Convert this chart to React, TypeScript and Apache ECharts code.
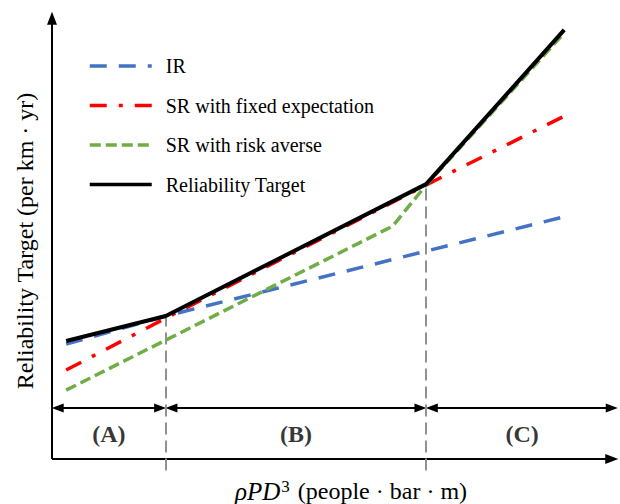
import React, { useEffect, useRef } from "react";
import * as echarts from "echarts";

// Schematic reliability-target curves, in normalised units (x: 0-100, y: 0-100)
const seriesNames = ["IR", "SR with fixed expectation", "SR with risk averse", "Reliability Target"];

const irX = [2.5, 20.1, 91.2];
const irY = [25.7, 32.0, 54.4];

const srFixedX = [2.5, 20.1, 66.1, 90.5];
const srFixedY = [19.9, 31.5, 61.3, 76.7];

const srAverseX = [2.5, 60.2, 66.1, 90.5];
const srAverseY = [15.4, 52.1, 61.3, 95.3];

const targetX = [2.5, 20.1, 66.1, 90.5];
const targetY = [26.4, 32.0, 61.5, 96.0];

// Region boundaries along ρPD³ and the region labels
const boundaries = [20.1, 66.1];
const boundaryTops = [32.0, 61.5];
const regionLabels = ["(A)", "(B)", "(C)"];

const SERIF = "Liberation Serif";

const pairs = (xs: number[], ys: number[]) => xs.map((x, i) => [x, ys[i]]);

export default function App() {
  const ref = useRef<HTMLDivElement>(null);

  useEffect(() => {
    if (!ref.current) return;
    const chart = echarts.init(ref.current, undefined, { renderer: "svg" });

    const xMin = 0;
    const xMax = 100;
    const yMin = -3;
    const yMax = 100;
    const bandY = 11.4;
    const edges = [xMin, ...boundaries, xMax];
    const labelY = 5.6;

    const arrowEnd = (size: number[]) => ({ symbol: "triangle", symbolSize: size });
    const noEnd = { symbol: "none" };

    const frameLines: any[] = [
      // axes
      [{ coord: [0, 0], ...noEnd }, { coord: [0, 98.6], ...arrowEnd([10, 13]) }],
      [{ coord: [0, 0], ...noEnd }, { coord: [98.9, 0], ...arrowEnd([10, 13]) }],
    ];
    // double-headed region arrows
    for (let i = 0; i < edges.length - 1; i++) {
      const a = edges[i] + 1.0;
      const b = i === edges.length - 2 ? edges[i + 1] - 1.1 : edges[i + 1] - 1.0;
      frameLines.push([
        { coord: [a, bandY], ...arrowEnd([9, 12]) },
        { coord: [b, bandY], ...arrowEnd([9, 12]) },
      ]);
    }

    const boundaryLines = boundaries.map((x, i) => [
      { coord: [x, -2.6], symbol: "none" },
      { coord: [x, boundaryTops[i]], symbol: "none" },
    ]);

    const regionData = edges.slice(0, -1).map((e, i) => ({
      value: [(e + edges[i + 1]) / 2, labelY],
      name: regionLabels[i],
    }));

    const lineSeries = (name: string, data: number[][], color: string, type: any, width: number, z: number) => ({
      name,
      type: "line",
      data,
      symbol: "none",
      z,
      lineStyle: { color, width, type, cap: "butt" },
      itemStyle: { color },
    });

    chart.setOption({
      animation: false,
      textStyle: { fontFamily: SERIF },
      grid: { left: 52, right: 2, top: 12, bottom: 31.6 },
      xAxis: { type: "value", min: xMin, max: xMax, show: false },
      yAxis: { type: "value", min: yMin, max: yMax, show: false },
      legend: {
        data: seriesNames,
        orient: "vertical",
        left: 83,
        top: 51,
        itemWidth: 62,
        itemHeight: 14,
        itemGap: 19.5,
        itemStyle: { opacity: 0 },
        lineStyle: { width: 3.5 },
        textStyle: { fontFamily: SERIF, fontSize: 20, color: "#000", padding: [0, 0, 0, 9] },
        selectedMode: false,
      },
      graphic: [
        {
          type: "text",
          x: 25,
          y: 241,
          rotation: Math.PI / 2,
          style: {
            text: "Reliability Target (per km · yr)",
            fontFamily: SERIF,
            fontSize: 24,
            fill: "#000",
            align: "center",
            verticalAlign: "middle",
          },
        },
        {
          type: "text",
          x: 351,
          y: 491,
          style: {
            text: "{i|ρPD}{s|3}{n| (people · bar · m)}",
            fill: "#000",
            align: "center",
            verticalAlign: "middle",
            rich: {
              i: { fontFamily: SERIF, fontSize: 25, fontStyle: "italic", fill: "#000" },
              s: { fontFamily: SERIF, fontSize: 17, fill: "#000", padding: [0, 2, 10, 1] },
              n: { fontFamily: SERIF, fontSize: 24, fill: "#000" },
            },
          },
        },
      ],
      series: [
        {
          name: "frame",
          type: "line",
          data: [],
          silent: true,
          markLine: {
            silent: true,
            animation: false,
            label: { show: false },
            lineStyle: { color: "#000", width: 2, type: "solid" },
            data: frameLines,
          },
        },
        {
          name: "boundaries",
          type: "line",
          data: [],
          silent: true,
          markLine: {
            silent: true,
            animation: false,
            label: { show: false },
            symbol: "none",
            lineStyle: { color: "#919191", width: 2, type: [12, 6] },
            data: boundaryLines,
          },
        },
        lineSeries(seriesNames[0], pairs(irX, irY), "#4472C4", [17, 12], 3.5, 3),
        lineSeries(seriesNames[1], pairs(srFixedX, srFixedY), "#FF0000", [17, 12, 4, 12], 3.5, 4),
        lineSeries(seriesNames[2], pairs(srAverseX, srAverseY), "#70AD47", [11, 5], 3.5, 5),
        lineSeries(seriesNames[3], pairs(targetX, targetY), "#000000", "solid", 4, 6),
        {
          name: "regions",
          type: "scatter",
          data: regionData,
          symbolSize: 1,
          itemStyle: { color: "rgba(0,0,0,0)" },
          label: {
            show: true,
            position: "inside",
            formatter: (p: any) => p.name,
            fontFamily: SERIF,
            fontSize: 24,
            fontWeight: "bold",
            color: "#000",
          },
        },
      ],
    });

    return () => chart.dispose();
  }, []);

  return (
    <div
      ref={ref}
      style={{ position: "fixed", left: 0, top: 0, width: 620, height: 504, background: "#fff" }}
    />
  );
}
